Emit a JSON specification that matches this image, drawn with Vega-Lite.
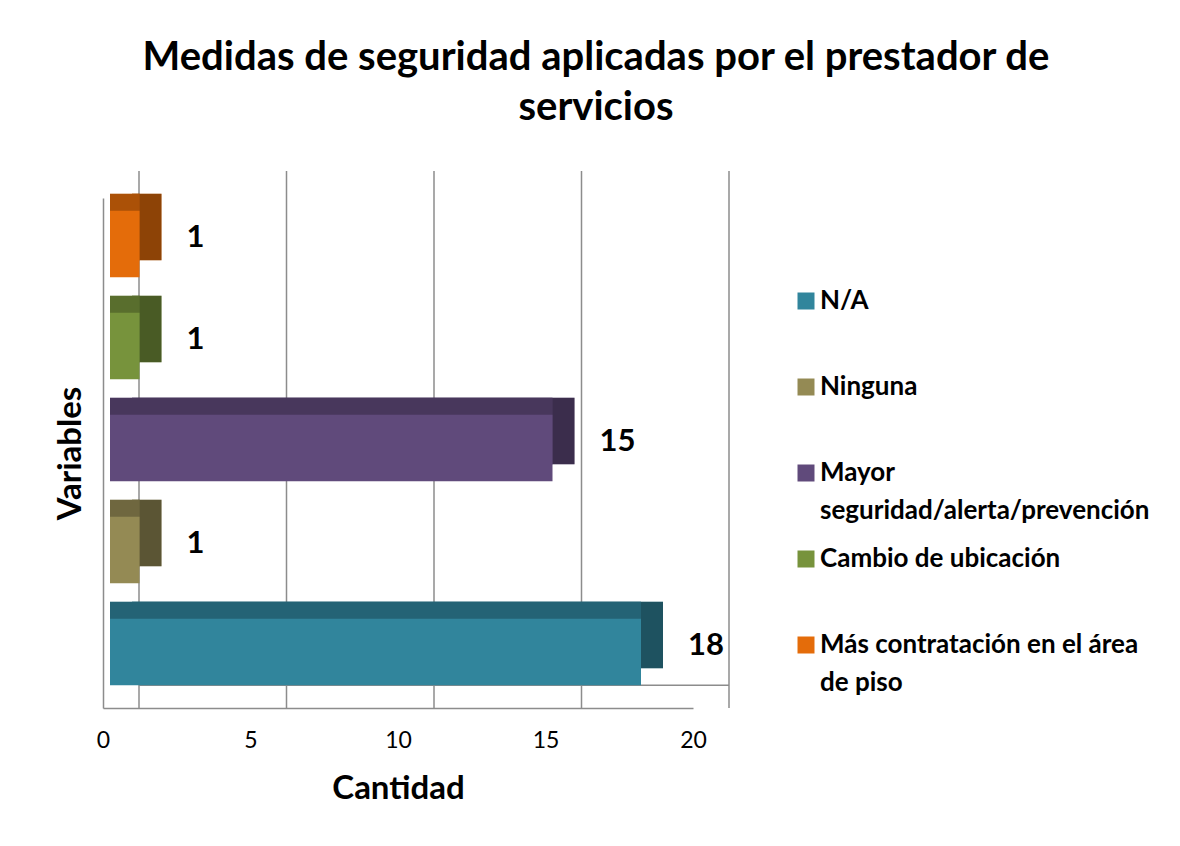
{
  "$schema": "https://vega.github.io/schema/vega-lite/v6.json",
  "width": 590,
  "height": 510,
  "autosize": {"type": "none"},
  "padding": {"left": 103, "top": 198, "right": 487, "bottom": 138},
  "background": "white",
  "title": {
    "text": ["Medidas de seguridad aplicadas por el prestador de", "servicios"],
    "font": "Lato",
    "fontSize": 40,
    "fontWeight": "bold",
    "color": "#000000",
    "anchor": "middle",
    "frame": "group",
    "dx": 198,
    "offset": 42,
    "lineHeight": 50
  },
  "datasets": {
    "medidas": [
      {"medida": "N/A", "cantidad": 18},
      {"medida": "Ninguna", "cantidad": 1},
      {"medida": "Mayor seguridad/alerta/prevención", "cantidad": 15},
      {"medida": "Cambio de ubicación", "cantidad": 1},
      {"medida": "Más contratación en el área de piso", "cantidad": 1}
    ],
    "rejilla": [
      {"cantidad": 0}, {"cantidad": 5}, {"cantidad": 10}, {"cantidad": 15}, {"cantidad": 20}
    ],
    "piso": [{"desde": 0, "hasta": 20}]
  },
  "config": {
    "font": "Lato",
    "view": {"stroke": null},
    "axis": {
      "grid": false,
      "ticks": false,
      "domainColor": "#8c8c8c",
      "domainWidth": 1.5,
      "labelFont": "Lato",
      "labelFontSize": 23,
      "labelColor": "#000000",
      "labelFlush": false,
      "titleFont": "Lato",
      "titleFontSize": 33,
      "titleFontWeight": "bold",
      "titleColor": "#000000"
    },
    "axisX": {"labelPadding": 21, "titlePadding": 20},
    "axisY": {"labels": false, "titlePadding": 16},
    "legend": {
      "orient": "none",
      "legendX": 690,
      "legendY": 90,
      "symbolType": "square",
      "symbolSize": 289,
      "symbolStrokeWidth": 0,
      "labelFont": "Lato",
      "labelFontSize": 26,
      "labelFontWeight": "bold",
      "labelColor": "#000000",
      "labelOffset": 1,
      "labelLimit": 0,
      "rowPadding": 22,
      "labelBaseline": "middle"
    }
  },
  "layer": [
    {
      "data": {"name": "rejilla"},
      "mark": {"type": "rule", "color": "#8c8c8c", "strokeWidth": 1.5, "xOffset": 36, "yOffset": -27, "y2Offset": -23},
      "encoding": {
        "x": {"field": "cantidad", "type": "quantitative", "scale": {"domain": [0, 20], "nice": false}, "axis": {"title": "Cantidad", "values": [0, 5, 10, 15, 20]}}
      }
    },
    {
      "data": {"name": "piso"},
      "mark": {"type": "rule", "color": "#8c8c8c", "strokeWidth": 1.5, "xOffset": 36, "x2Offset": 36, "yOffset": -5},
      "encoding": {
        "x": {"field": "desde", "type": "quantitative"},
        "x2": {"field": "hasta"},
        "y": {"datum": "N/A", "type": "nominal", "bandPosition": 1}
      }
    },
    {
      "data": {"name": "medidas"},
      "mark": {"type": "bar", "xOffset": 29, "x2Offset": 29, "yOffset": -22, "y2Offset": -22},
      "encoding": {
        "x": {"field": "cantidad", "type": "quantitative"},
        "y": {"field": "medida", "type": "nominal", "sort": ["Más contratación en el área de piso", "Cambio de ubicación", "Mayor seguridad/alerta/prevención", "Ninguna", "N/A"], "scale": {"paddingInner": 0.35, "paddingOuter": 0.175}, "axis": {"title": "Variables"}},
        "color": {
          "field": "medida",
          "type": "nominal",
          "scale": {"domain": ["N/A", "Ninguna", "Mayor seguridad/alerta/prevención", "Cambio de ubicación", "Más contratación en el área de piso"], "range": ["#31859C", "#948A54", "#604A7B", "#77933C", "#E46C0A"]},
          "legend": {
            "title": null,
            "labelExpr": "datum.label == 'Mayor seguridad/alerta/prevención' ? ['Mayor', 'seguridad/alerta/prevención'] : datum.label == 'Más contratación en el área de piso' ? ['Más contratación en el área', 'de piso'] : [datum.label, '']",
            "encoding": {"labels": {"lineHeight": {"value": 38}}}
          }
        }
      }
    },
    {
      "data": {"name": "medidas"},
      "mark": {"type": "bar", "color": "#000000", "opacity": 0.38, "xOffset": 29, "x2Offset": 29, "yOffset": -22, "y2Offset": -22},
      "encoding": {
        "x": {"field": "cantidad", "type": "quantitative"},
        "y": {"field": "medida", "type": "nominal", "sort": ["Más contratación en el área de piso", "Cambio de ubicación", "Mayor seguridad/alerta/prevención", "Ninguna", "N/A"]}
      }
    },
    {
      "data": {"name": "medidas"},
      "mark": {"type": "bar", "xOffset": 7, "x2Offset": 7, "yOffset": -22, "y2Offset": -22},
      "encoding": {
        "x": {"field": "cantidad", "type": "quantitative"},
        "y": {"field": "medida", "type": "nominal", "sort": ["Más contratación en el área de piso", "Cambio de ubicación", "Mayor seguridad/alerta/prevención", "Ninguna", "N/A"]},
        "color": {"field": "medida", "type": "nominal"}
      }
    },
    {
      "data": {"name": "medidas"},
      "mark": {"type": "bar", "color": "#000000", "opacity": 0.25, "xOffset": 7, "x2Offset": 7, "yOffset": -22, "y2Offset": -22},
      "encoding": {
        "x": {"field": "cantidad", "type": "quantitative"},
        "y": {"field": "medida", "type": "nominal", "sort": ["Más contratación en el área de piso", "Cambio de ubicación", "Mayor seguridad/alerta/prevención", "Ninguna", "N/A"]}
      }
    },
    {
      "data": {"name": "medidas"},
      "mark": {"type": "bar", "xOffset": 7, "x2Offset": 7, "yOffset": -5, "y2Offset": -5},
      "encoding": {
        "x": {"field": "cantidad", "type": "quantitative"},
        "y": {"field": "medida", "type": "nominal", "sort": ["Más contratación en el área de piso", "Cambio de ubicación", "Mayor seguridad/alerta/prevención", "Ninguna", "N/A"]},
        "color": {"field": "medida", "type": "nominal"}
      }
    },
    {
      "data": {"name": "medidas"},
      "mark": {"type": "text", "align": "left", "baseline": "middle", "dx": 54, "dy": -11, "font": "Lato", "fontSize": 31, "fontWeight": "bold", "color": "#000000"},
      "encoding": {
        "x": {"field": "cantidad", "type": "quantitative"},
        "y": {"field": "medida", "type": "nominal", "sort": ["Más contratación en el área de piso", "Cambio de ubicación", "Mayor seguridad/alerta/prevención", "Ninguna", "N/A"]},
        "text": {"field": "cantidad", "type": "quantitative"}
      }
    }
  ]
}
